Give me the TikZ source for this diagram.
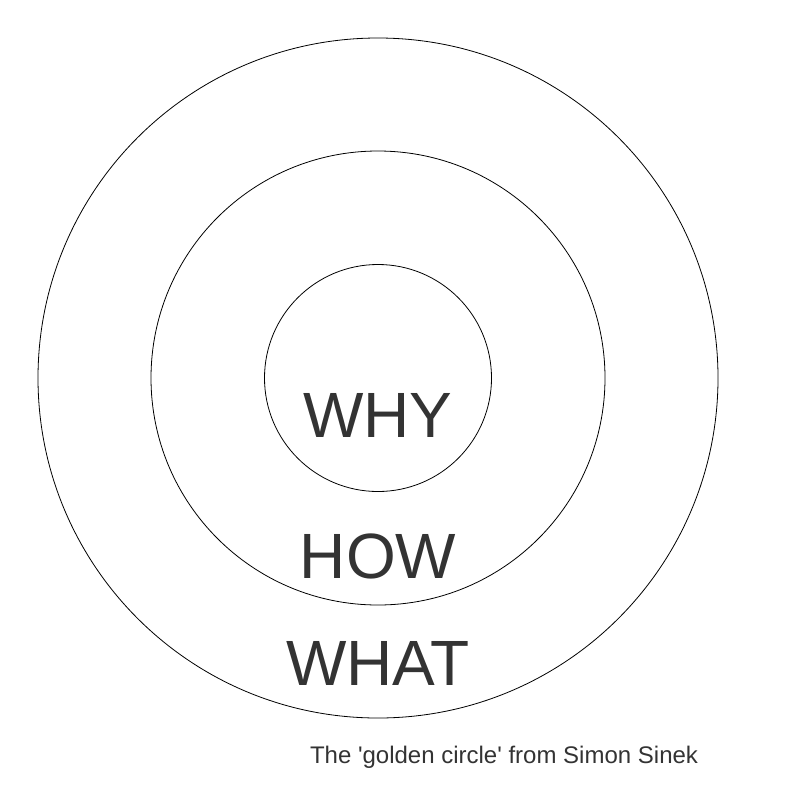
\documentclass[tikz,border=0pt]{standalone}
\usepackage{fontspec}
\setmainfont{Liberation Sans}
\definecolor{textgray}{HTML}{333333}

\begin{document}
\begin{tikzpicture}
		[x=1pt,y=-1pt,ring/.style={circle,draw,line width=0.8pt,inner sep=0pt},
		word/.style={anchor=base,inner sep=0pt,text=textgray,font=\fontsize{64}{64}\selectfont}]
		\useasboundingbox (0,0) rectangle (794,790);
		\node[ring,minimum size=680pt] (what) at (378,378) {};
		\node[ring,minimum size=454pt] (how) at (378,378) {};
		\node[ring,minimum size=227pt] (why) at (378,378) {};

		\node[word] (whytext) at (378,437) {WHY};
		\node[word] (howtext) at (378,578) {HOW};
		\node[word] (whattext) at (378,685) {WHAT};

		\node[anchor=base,inner sep=0pt,text=textgray,font=\fontsize{24}{24}\selectfont] (caption) at (504,763) {The \textquotesingle golden circle\textquotesingle{} from Simon Sinek};

	\end{tikzpicture}
\end{document}
